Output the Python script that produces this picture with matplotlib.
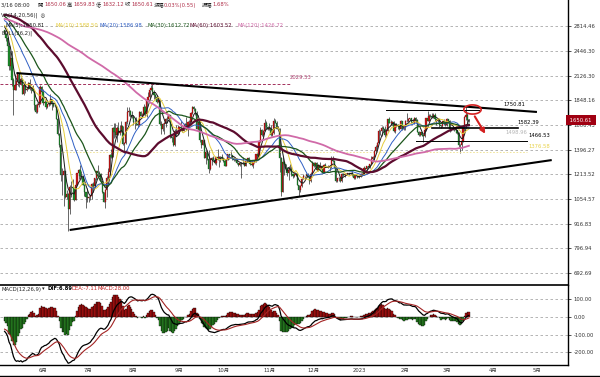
import numpy as np
import pandas as pd
import matplotlib
matplotlib.use('Agg')
import matplotlib.pyplot as plt
from matplotlib.path import Path
from matplotlib.lines import Line2D
from matplotlib.ticker import NullLocator
import matplotlib.transforms as mtrans

plt.rcParams['font.family'] = ['DejaVu Sans', 'Noto Sans CJK TC']

# ---- daily closes before the visible window (Jan 6 - May 5 2022), only used for MA / MACD ----
prior_closes = [
    3406, 3196, 3081, 3157, 3083, 3239, 3372, 3252, 3310, 3331, 3352, 3213, 3164, 3096, 3002, 2561,
    2406, 2539, 2441, 2460, 2467, 2422, 2546, 2603, 2601, 2688,
    2792, 2681, 2662, 2989, 3020, 3058, 3142, 3122, 3236, 3081, 2925, 2917, 2883, 2930, 3182, 3132,
    2883, 2787, 2762, 2628, 2573, 2638, 2583, 2598, 2774, 2776, 2619, 2919,
    2972, 2950, 2834, 2617, 2665, 2555, 2497, 2575, 2728, 2608, 2558, 2574, 2518, 2591, 2620, 2772,
    2814, 2945, 2948, 2861, 2898, 2970, 3031, 3108, 3106, 3143, 3274, 3331, 3399, 3385, 3281,
    3449, 3444, 3522, 3521, 3411, 3170, 3236, 3189, 3262, 3211, 2982, 3030, 3117, 3019, 3040, 3061,
    2992, 3057, 3104, 3077, 2987, 2964, 2938, 2922, 3008, 2809, 2889, 2936, 2816, 2730,
    2828, 2859, 2783, 2940, 2749,
]

# ---- visible daily candles, 2022-05-06 .. 2023-03-16 ----
first_day = '2022-05-06'
closes = [
    # May
    2694, 2636, 2518, 2245, 2343, 2072, 1961, 2014, 2057, 2145, 2023, 2090, 1912, 2019, 1957, 1975,
    2043, 1972, 1978, 1946, 1803, 1725, 1794, 1812, 1997, 1942,
    # Jun
    1823, 1834, 1775, 1805, 1806, 1859, 1814, 1793, 1789, 1665, 1529, 1437, 1208, 1208, 1237, 1068,
    1086, 995, 1127, 1128, 1124, 1051, 1144, 1225, 1243, 1199, 1193, 1144, 1098, 1067,
    # Jul
    1060, 1067, 1074, 1151, 1134, 1186, 1237, 1222, 1216, 1168, 1097, 1038, 1112, 1192, 1233, 1356,
    1339, 1580, 1542, 1520, 1576, 1535, 1553, 1600, 1440, 1450, 1636, 1724, 1739, 1696, 1679,
    # Aug
    1632, 1634, 1619, 1609, 1731, 1694, 1700, 1775, 1705, 1852, 1878, 1958, 1984, 1935, 1903, 1877,
    1834, 1848, 1614, 1574, 1619, 1625, 1662, 1658, 1696, 1507, 1491, 1432, 1554, 1524, 1554,
    # Sep
    1586, 1577, 1556, 1577, 1617, 1561, 1631, 1636, 1718, 1776, 1761, 1716, 1574, 1636, 1472, 1432,
    1471, 1335, 1377, 1324, 1252, 1327, 1328, 1317, 1294, 1336, 1329, 1337, 1336, 1328,
    # Oct
    1311, 1276, 1323, 1362, 1352, 1351, 1330, 1315, 1322, 1291, 1280, 1294, 1288, 1297, 1275, 1306,
    1331, 1311, 1286, 1282, 1299, 1313, 1362, 1344, 1459, 1565, 1516, 1555, 1620, 1590, 1573,
    # Nov
    1579, 1519, 1531, 1645, 1628, 1571, 1568, 1333, 1100, 1299, 1287, 1257, 1222, 1243, 1252, 1217,
    1201, 1212, 1219, 1142, 1108, 1135, 1183, 1204, 1201, 1206, 1196, 1170, 1217, 1296,
    # Dec
    1275, 1294, 1242, 1279, 1260, 1270, 1232, 1282, 1265, 1265, 1264, 1275, 1320, 1309, 1265, 1166,
    1186, 1187, 1168, 1218, 1211, 1216, 1218, 1220, 1218, 1226, 1211, 1189, 1200, 1199, 1196,
    # Jan 2023
    1200, 1215, 1214, 1257, 1251, 1269, 1264, 1288, 1322, 1337, 1389, 1419, 1451, 1551, 1552, 1576,
    1567, 1513, 1554, 1658, 1628, 1628, 1630, 1555, 1613, 1603, 1598, 1572, 1646, 1567, 1586,
    # Feb
    1642, 1643, 1665, 1667, 1631, 1628, 1674, 1651, 1547, 1515, 1539, 1515, 1507, 1557, 1671, 1643,
    1694, 1692, 1681, 1703, 1659, 1643, 1649, 1608, 1595, 1641, 1634, 1605,
    # Mar
    1663, 1646, 1569, 1567, 1565, 1564, 1560, 1534, 1437, 1430, 1470, 1580, 1680, 1704, 1656, 1650.61,
]
highs = [
    2752, 2700, 2640, 2525, 2450, 2450, 2100, 2140, 2075, 2150, 2145, 2110, 2095, 2025, 2065, 1990,
    2050, 2080, 1990, 2010, 1955, 1810, 1815, 1815, 2015, 2000,
    1970, 1850, 1840, 1810, 1825, 1915, 1865, 1830, 1815, 1795, 1685, 1535, 1440, 1260, 1245, 1240,
    1110, 1090, 1140, 1170, 1185, 1130, 1150, 1225, 1250, 1280, 1235, 1210, 1148, 1100,
    1120, 1075, 1080, 1155, 1165, 1190, 1240, 1280, 1240, 1220, 1170, 1100, 1115, 1200, 1255, 1360,
    1405, 1590, 1620, 1625, 1600, 1630, 1610, 1640, 1600, 1460, 1645, 1780, 1775, 1750, 1735,
    1700, 1670, 1680, 1660, 1740, 1735, 1720, 1810, 1790, 1870, 1940, 1960, 2010, 2030, 1960, 1910,
    1900, 1880, 1850, 1640, 1625, 1630, 1670, 1690, 1710, 1700, 1510, 1520, 1570, 1610, 1610,
    1595, 1645, 1580, 1580, 1625, 1685, 1640, 1650, 1730, 1785, 1790, 1765, 1735, 1640, 1650, 1475,
    1475, 1475, 1395, 1380, 1390, 1330, 1340, 1345, 1320, 1340, 1400, 1350, 1350, 1365,
    1330, 1315, 1325, 1365, 1365, 1385, 1355, 1335, 1325, 1330, 1295, 1300, 1300, 1340, 1300, 1310,
    1335, 1340, 1315, 1310, 1305, 1315, 1365, 1370, 1475, 1590, 1570, 1565, 1660, 1640, 1600,
    1620, 1610, 1565, 1675, 1660, 1640, 1600, 1580, 1340, 1340, 1300, 1290, 1265, 1275, 1285, 1270,
    1225, 1230, 1225, 1220, 1145, 1140, 1190, 1215, 1205, 1225, 1220, 1200, 1230, 1310,
    1300, 1300, 1300, 1285, 1300, 1275, 1272, 1285, 1295, 1275, 1280, 1280, 1345, 1350, 1320, 1275,
    1190, 1195, 1195, 1220, 1220, 1220, 1225, 1225, 1222, 1230, 1235, 1215, 1205, 1205, 1205,
    1202, 1225, 1220, 1270, 1260, 1272, 1270, 1290, 1350, 1350, 1390, 1430, 1455, 1570, 1560, 1600,
    1595, 1600, 1560, 1665, 1680, 1650, 1640, 1640, 1625, 1625, 1615, 1610, 1655, 1645, 1595,
    1650, 1715, 1670, 1675, 1670, 1660, 1680, 1680, 1660, 1550, 1545, 1545, 1520, 1570, 1675, 1740,
    1710, 1710, 1720, 1715, 1715, 1660, 1670, 1660, 1610, 1645, 1660, 1645,
    1670, 1665, 1650, 1570, 1580, 1580, 1575, 1565, 1545, 1440, 1475, 1590, 1690, 1780, 1715, 1659.83,
]
lows = [
    2660, 2590, 2490, 2200, 2200, 2000, 1700, 1955, 1955, 2000, 1990, 2010, 1910, 1900, 1925, 1950,
    1965, 1960, 1925, 1935, 1745, 1715, 1720, 1775, 1810, 1910,
    1800, 1795, 1755, 1765, 1785, 1800, 1745, 1775, 1780, 1660, 1515, 1420, 1170, 1080, 1015, 1060,
    1055, 880, 970, 1065, 1110, 1045, 1050, 1140, 1180, 1195, 1180, 1140, 1075, 1000,
    1040, 1035, 1050, 1055, 1095, 1125, 1175, 1205, 1205, 1155, 1090, 1035, 1005, 1065, 1175, 1210,
    1335, 1340, 1495, 1500, 1460, 1520, 1520, 1540, 1435, 1370, 1445, 1615, 1690, 1680, 1670,
    1610, 1570, 1610, 1590, 1605, 1690, 1680, 1695, 1690, 1680, 1850, 1870, 1955, 1920, 1860, 1860,
    1820, 1830, 1610, 1530, 1550, 1530, 1585, 1625, 1655, 1495, 1460, 1425, 1425, 1510, 1520,
    1530, 1560, 1545, 1550, 1570, 1560, 1510, 1605, 1630, 1712, 1740, 1700, 1570, 1560, 1460, 1410,
    1430, 1335, 1285, 1315, 1220, 1245, 1280, 1315, 1285, 1280, 1320, 1265, 1300, 1320,
    1305, 1270, 1275, 1320, 1330, 1345, 1320, 1310, 1310, 1285, 1270, 1275, 1190, 1285, 1270, 1275,
    1300, 1295, 1280, 1275, 1255, 1295, 1305, 1330, 1340, 1455, 1505, 1500, 1550, 1570, 1560,
    1565, 1505, 1505, 1525, 1620, 1570, 1555, 1230, 1075, 1095, 1210, 1250, 1200, 1175, 1235, 1205,
    1190, 1195, 1205, 1140, 1075, 1095, 1130, 1180, 1180, 1200, 1195, 1150, 1165, 1215,
    1265, 1265, 1240, 1240, 1255, 1250, 1220, 1225, 1262, 1262, 1260, 1240, 1260, 1300, 1260, 1160,
    1160, 1170, 1160, 1165, 1205, 1195, 1210, 1215, 1210, 1215, 1205, 1185, 1185, 1190, 1195,
    1190, 1195, 1205, 1212, 1245, 1240, 1260, 1260, 1285, 1318, 1320, 1375, 1405, 1450, 1520, 1510,
    1555, 1500, 1510, 1550, 1620, 1610, 1610, 1545, 1535, 1590, 1570, 1565, 1570, 1560, 1565,
    1560, 1635, 1630, 1655, 1620, 1620, 1615, 1640, 1540, 1505, 1510, 1510, 1460, 1500, 1550, 1640,
    1640, 1685, 1675, 1670, 1640, 1610, 1630, 1590, 1580, 1590, 1610, 1600,
    1600, 1620, 1540, 1555, 1560, 1555, 1535, 1530, 1420, 1370, 1390, 1460, 1550, 1655, 1625, 1632.12,
]

ma_periods = [5, 10, 20, 30, 60, 120]
ma_colors = ['#1a1a1a', '#e6cc3a', '#2f5fc4', '#1b551b', '#5c0c2e', '#d06aa8']
ma_widths = [0.7, 0.7, 0.7, 0.9, 1.6, 1.3]

# right axis tick values (log spaced, as shown)
price_ticks = [692.69, 796.94, 916.83, 1054.57, 1213.52, 1396.27, 1606.43, 1848.16, 2126.30, 2446.30, 2814.46]
macd_ticks = [100, 0, -100, -200]

month_starts = pd.date_range('2022-06-01', '2023-05-01', freq='MS')
month_labels = ['6月', '7月', '8月', '9月', '10月', '11月', '12月', '2023', '2月', '3月', '4月', '5月']

# hand drawn annotations (date, price)
resist_line = (['2022-05-14', '2023-05-01'], [2156, 1729])
support_line = (['2022-06-19', '2023-05-11'], [885, 1316])
levels = [  # price, start, end, label position, label colour, line width
    (1750.81, '2023-01-19', '2023-03-23', '2023-04-08', 'black', 0.7),
    (1582.39, '2023-02-19', '2023-04-18', '2023-04-18', 'black', 1.2),
    (1466.53, '2023-02-08', '2023-04-24', '2023-04-25', 'black', 0.7),
]
gray_level = (1498.96, '2023-04-10')
yellow_level = (1376.58, '2022-06-10', '2023-04-24')
high_level = (2029.53, '2022-05-03', '2022-11-15')
circle_pt = ('2023-03-18', 1763)
arrow_from = ('2023-03-19', 1709)
arrow_to = ('2023-03-28', 1507)

origin = pd.Timestamp('2022-06-01')
def day(s):
    return (pd.Timestamp(s) - origin).days

dates = pd.date_range(first_day, periods=len(closes), freq='D')
x = np.asarray((dates - origin).days, dtype=float)
c = np.array(closes, dtype=float)
o = np.array([prior_closes[-1]] + closes[:-1], dtype=float)
h = np.array(highs, dtype=float)
l = np.array(lows, dtype=float)

full = pd.Series(prior_closes + closes, dtype=float)
n0 = len(prior_closes)
ema12 = full.ewm(span=12, adjust=False).mean()
ema26 = full.ewm(span=26, adjust=False).mean()
dif = ema12 - ema26
dea = dif.ewm(span=9, adjust=False).mean()
hist = 2 * (dif - dea)
dif, dea, hist = dif.values[n0:], dea.values[n0:], hist.values[n0:]

W, H = 600, 377
fig = plt.figure(figsize=(6, 3.77), dpi=100)
def fx(px):
    return px / W
def fy(py):
    return 1 - py / H

ax = fig.add_axes([0, fy(285), fx(568), fy(0) - fy(285)])
ax2 = fig.add_axes([0, fy(365), fx(568), fy(285) - fy(365)], sharex=ax)

XMIN, XMAX = -29.1, 355.0
TXT = 3.8
RED = '#d42020'

# ---------------- main panel ----------------
ax.set_yscale('log')
ax.set_ylim(647.7, 3264)
ax.set_xlim(XMIN, XMAX)

ax.vlines(x, l, h, color='#2a2a2a', lw=0.5, zorder=2)
up = c >= o
ax.bar(x[up], c[up] - o[up], bottom=o[up], width=0.8, color='#c81818',
       edgecolor='#700000', linewidth=0.2, zorder=3)
ax.bar(x[~up], o[~up] - c[~up], bottom=c[~up], width=0.8, color='#1e8c2c',
       edgecolor='#0c3a10', linewidth=0.2, zorder=3)

for n, col, lw in zip(ma_periods, ma_colors, ma_widths):
    ma = full.rolling(n).mean().values[n0:]
    ax.plot(x, ma, color=col, lw=lw, zorder=4)

# trend lines
for line in (resist_line, support_line):
    ax.plot([day(d) for d in line[0]], line[1], color='black', lw=1.5, zorder=5,
            solid_capstyle='butt')

# horizontal levels
for price, d0, d1, dl, col, lw in levels:
    ax.plot([day(d0), day(d1)], [price, price], color='black', lw=lw, zorder=5)
    ax.annotate(f'{price:.2f}', (day(dl), price), xytext=(0, 2), textcoords='offset points',
                fontsize=TXT, color=col, ha='left', va='bottom', zorder=6)
ax.annotate(f'{gray_level[0]:.2f}', (day(gray_level[1]), gray_level[0]), xytext=(0, 1.5),
            textcoords='offset points', fontsize=TXT, color='#b5b5b5', ha='left', va='bottom')
ax.plot([day(yellow_level[1]), day(yellow_level[2])], [yellow_level[0]] * 2, color='#efe08a',
        lw=0.6, ls=(0, (2, 2)), zorder=2)
ax.annotate(f'{yellow_level[0]:.2f}', (day(yellow_level[2]), yellow_level[0]), xytext=(1, 2),
            textcoords='offset points', fontsize=TXT, color='#e8d24a', ha='left', va='bottom')
ax.plot([day(high_level[1]), day(high_level[2])], [high_level[0]] * 2, color='#a3305c',
        lw=0.7, ls=(0, (3, 2)), zorder=2)
ax.annotate(f'{high_level[0]:.2f}', (day(high_level[2]), high_level[0]), xytext=(0, 3),
            textcoords='offset points', fontsize=TXT, color='#b04070', ha='left', va='bottom')

# red ellipse + arrow
t = np.linspace(0, 2 * np.pi, 60)
ell = Path(np.column_stack([1.9 * np.cos(t), np.sin(t)]))
ax.plot([day(circle_pt[0])], [circle_pt[1]], marker=ell, ms=12.5, mfc='none', mec=RED,
        mew=1.2, zorder=7)
ax.annotate('', xy=(day(arrow_to[0]), arrow_to[1]), xytext=(day(arrow_from[0]), arrow_from[1]),
            arrowprops=dict(arrowstyle='-|>', color=RED, lw=1.5, mutation_scale=7), zorder=7)

# axis styling
ax.yaxis.tick_right()
ax.yaxis.set_minor_locator(NullLocator())
ax.set_yticks(price_ticks)
ax.set_yticklabels([f'{v:.2f}' for v in price_ticks])
ax.tick_params(axis='y', labelsize=TXT, colors='#333333', length=2.5, width=0.6, pad=1.5)
ax.tick_params(axis='x', bottom=False, labelbottom=False)
ax.yaxis.grid(True, ls=(0, (3, 3)), color='#a8a8a8', lw=0.6)
for s in ('left', 'top', 'bottom'):
    ax.spines[s].set_visible(False)
ax.spines['right'].set_linewidth(1.0)

blend = mtrans.blended_transform_factory(ax.transAxes, ax.transData)
ax.text(1.0, closes[-1], f' {closes[-1]:.2f} ', transform=blend, fontsize=TXT, color='white',
        ha='left', va='center', zorder=10,
        bbox=dict(boxstyle='square,pad=0.45', fc='#a00012', ec='none'))

# ---------------- MACD panel ----------------
ax2.set_ylim(-271, 178)
ax2.bar(x, hist, width=1.0, color=np.where(hist >= 0, '#b81212', '#2a8a24'),
        edgecolor='black', linewidth=0.25, zorder=3)
ax2.plot(x, dif, color='black', lw=0.9, zorder=4)
ax2.plot(x, dea, color='#a32424', lw=0.8, zorder=4)
ax2.yaxis.tick_right()
ax2.set_yticks(macd_ticks)
ax2.set_yticklabels([f'{v:.2f}' for v in macd_ticks])
ax2.tick_params(axis='y', labelsize=TXT, colors='#333333', length=2.5, width=0.6, pad=1.5)
ax2.yaxis.grid(True, ls=(0, (3, 3)), color='#a8a8a8', lw=0.6)
ax2.set_xticks([day(d) for d in month_starts])
ax2.set_xticklabels(month_labels)
ax2.tick_params(axis='x', labelsize=TXT, colors='#333333', length=0, pad=2)
ax2.spines['left'].set_visible(False)
ax2.spines['top'].set_linewidth(1.2)
ax2.spines['bottom'].set_linewidth(1.0)
ax2.spines['right'].set_linewidth(1.0)
ax2.set_xlim(XMIN, XMAX)

fig.add_artist(Line2D([0, 1], [fy(376), fy(376)], color='black', lw=1.0))

# ---------------- header texts ----------------
def put(px, py, s, col='#222222', **kw):
    fig.text(fx(px), fy(py), s, fontsize=TXT, color=col, va='center', ha='left', **kw)

VAL = '#b0304a'
put(1, 5, '3/16 08:00')
for px, lab, pv, val in [(38, '開', 44, '1650.06'), (67, '高', 73, '1659.83'),
                         (96, '低', 102, '1632.12'), (125, '收', 131, '1650.61'),
                         (154, '漲幅', 164, '0.03%(0.55)'), (202, '振幅', 212, '1.68%')]:
    put(px, 5, lab)
    put(pv, 5, val, VAL)
put(1, 15, 'VA(14,20,56)|  ◎')
ma_vals = ['1650.81', '1588.50', '1586.98', '1612.72', '1603.52', '1426.72']
for px, n, col, v in zip([5, 56, 100, 147, 190, 237], ma_periods, ma_colors, ma_vals):
    put(px, 25, f'MA({n}):{v}', col)
put(1, 33, 'BOLL(26,2)|')

put(1, 289, 'MACD(12,26,9)')
put(42, 289, '▾')
put(48, 289, 'DIF:6.89', 'black', fontweight='bold')
put(72, 289, 'DEA:-7.11', '#c02020')
put(98, 289, 'MACD:28.00', '#c02020')

fig.savefig('out.png', dpi=100)
